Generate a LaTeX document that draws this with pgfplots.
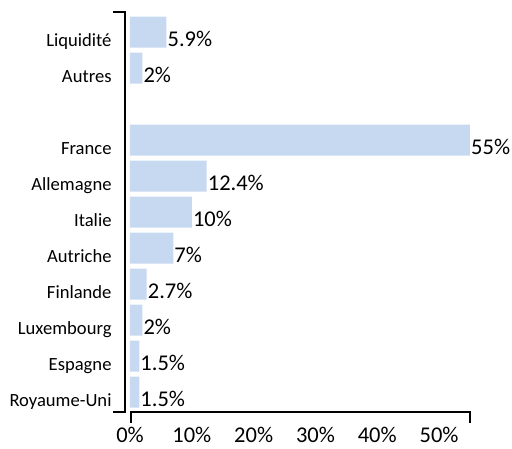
\documentclass[border=0pt]{standalone}
\usepackage{fontspec}
\setmainfont{Carlito}
\usepackage{pgfplots}
\pgfplotsset{compat=1.18}
\definecolor{barblue}{RGB}{198,217,241}
\begin{document}
\begin{tikzpicture}[x=1pt,y=1pt]
\begin{axis}[
  at={(0pt,0pt)}, anchor=south west,
  scale only axis, width=340pt, height=396pt,
  xbar, bar width=31pt,
  xmin=0, xmax=55, ymin=-0.5, ymax=10.5,
  axis line style={draw=none}, tick style={draw=none},
  xtick={0,10,20,30,40,50},
  xticklabels={0\%,10\%,20\%,30\%,40\%,50\%},
  ytick={0,1,2,3,4,5,6,7,9,10},
  yticklabels={Royaume-Uni,Espagne,Luxembourg,Finlande,Autriche,Italie,Allemagne,France,Autres,Liquidité},
  xticklabel style={anchor=base, inner sep=0pt, yshift=-32pt, font=\fontsize{22.5}{26}\selectfont},
  yticklabel style={anchor=base east, inner sep=0pt, xshift=-14pt, yshift=-14.5pt, font=\fontsize{18.6}{22}\selectfont},
  point meta=x,
  nodes near coords={\pgfmathprintnumber{\pgfplotspointmeta}\%},
  nodes near coords style={anchor=base west, inner sep=0pt, xshift=1pt, yshift=-14pt, font=\fontsize{22.5}{26}\selectfont},
  /pgf/number format/assume math mode=true,
  clip=false,
]
\addplot[fill=barblue, draw=none] coordinates {
  (1.5,0) (1.5,1) (2,2) (2.7,3) (7,4) (10,5) (12.4,6) (55,7) (2,9) (5.9,10)
};
\end{axis}
\draw[line width=2pt] (-17pt,398pt) -- (-5pt,398pt) -- (-5pt,-2pt) -- (-17pt,-2pt);
\draw[line width=2pt] (1pt,-13pt) -- (1pt,-2pt) -- (340pt,-2pt) -- (340pt,-13pt);
\useasboundingbox (-130pt,-38pt) rectangle (382pt,410pt);
\end{tikzpicture}
\end{document}
